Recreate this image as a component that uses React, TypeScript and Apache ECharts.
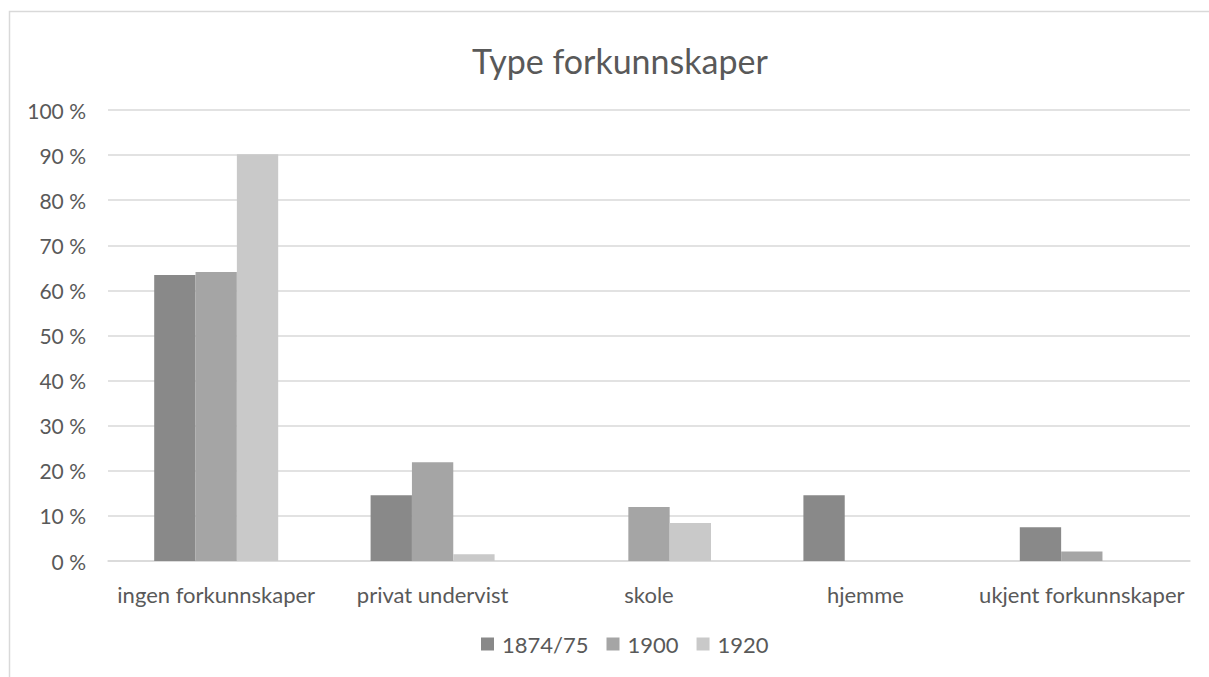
import React, { useEffect, useRef } from "react";
import * as echarts from "echarts";

const categories = ["ingen forkunnskaper", "privat undervist", "skole", "hjemme", "ukjent forkunnskaper"];
const seriesNames = ["1874/75", "1900", "1920"];
const values1874 = [63.4, 14.6, 0, 14.6, 7.5];
const values1900 = [64.1, 21.9, 12.0, 0, 2.1];
const values1920 = [90.2, 1.5, 8.4, 0, 0];
const colors = ["#898989", "#a5a5a5", "#c9c9c9"];

const FONT = "Lato, 'Liberation Sans', sans-serif";
const TEXT = "#595959";

export default function App() {
  const ref = useRef<HTMLDivElement>(null);
  useEffect(() => {
    if (!ref.current) return;
    const chart = echarts.init(ref.current, undefined, { renderer: "svg" });
    const data = [values1874, values1900, values1920];
    chart.setOption({
      animation: false,
      backgroundColor: "#ffffff",
      textStyle: { fontFamily: FONT },
      title: {
        text: "Type forkunnskaper",
        left: 467,
        top: 38,
        textStyle: { fontFamily: FONT, fontSize: 34, fontWeight: "normal", color: TEXT },
      },
      graphic: [
        {
          type: "rect",
          shape: { x: 9.5, y: 11.5, width: 1260, height: 720 },
          style: { fill: "none", stroke: "#d9d9d9", lineWidth: 1.5 },
          silent: true,
        },
      ],
      legend: {
        bottom: 17,
        left: 476,
        itemWidth: 13,
        itemHeight: 13,
        itemGap: 18,
        icon: "rect",
        textStyle: { fontFamily: FONT, fontSize: 22, color: TEXT, padding: [0, 0, 0, 3] },
        data: seriesNames,
      },
      grid: { left: 108, right: 19, top: 110, bottom: 116, containLabel: false },
      xAxis: {
        type: "category",
        data: categories,
        axisLine: { lineStyle: { color: "#d9d9d9", width: 1.5 } },
        axisTick: { show: false },
        axisLabel: { fontFamily: FONT, fontSize: 22, color: TEXT, margin: 22, interval: 0 },
      },
      yAxis: {
        type: "value",
        min: 0,
        max: 100,
        interval: 10,
        axisLine: { show: false },
        axisTick: { show: false },
        splitLine: { lineStyle: { color: "#d9d9d9", width: 1.5 } },
        axisLabel: { fontFamily: FONT, fontSize: 21, color: TEXT, margin: 22, formatter: "{value} %" },
      },
      series: seriesNames.map((name, i) => ({
        name,
        type: "bar",
        data: data[i],
        barGap: "0%",
        barCategoryGap: "42.7%",
        itemStyle: { color: colors[i] },
      })),
    });
    return () => chart.dispose();
  }, []);
  return <div ref={ref} style={{ position: "fixed", left: 0, top: 0, width: 1209, height: 677 }} />;
}
